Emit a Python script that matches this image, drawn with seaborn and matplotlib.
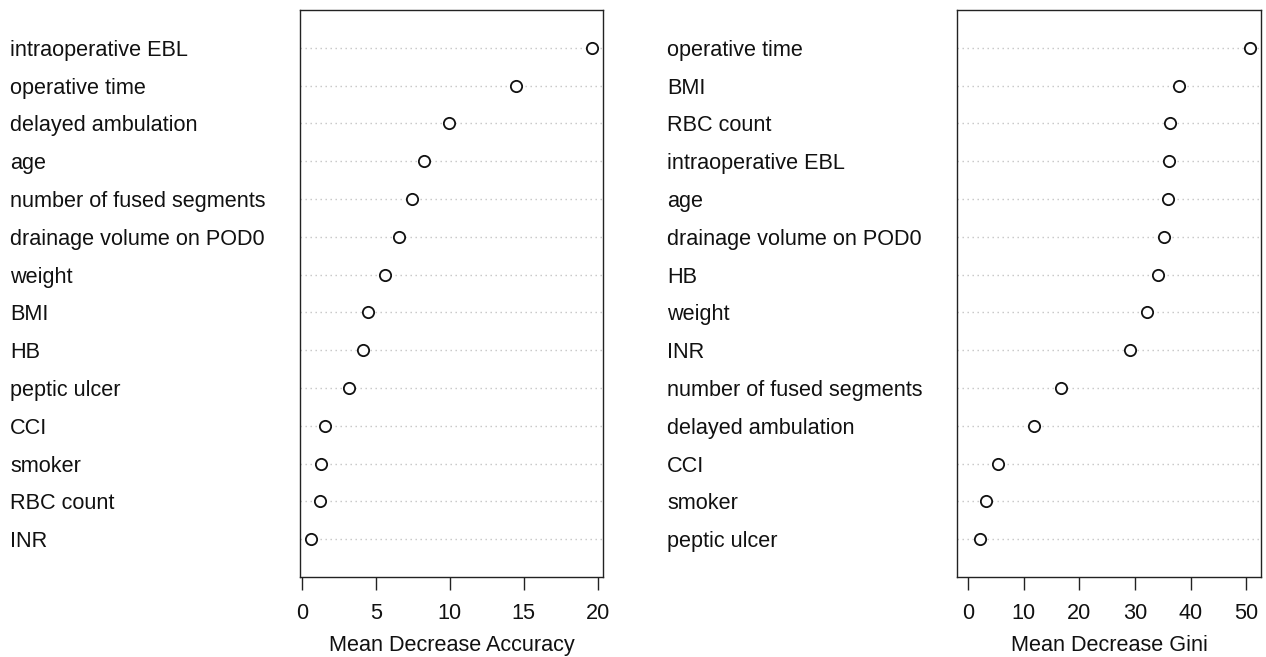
import matplotlib
matplotlib.use("Agg")
import matplotlib.pyplot as plt
import seaborn as sns
import pandas as pd

acc_vars = ["intraoperative EBL", "operative time", "delayed ambulation", "age",
            "number of fused segments", "drainage volume on POD0", "weight", "BMI",
            "HB", "peptic ulcer", "CCI", "smoker", "RBC count", "INR"]
acc_vals = [19.6, 14.48, 9.93, 8.24, 7.47, 6.55, 5.63, 4.5, 4.16, 3.17, 1.57, 1.3, 1.19, 0.63]

gini_vars = ["operative time", "BMI", "RBC count", "intraoperative EBL", "age",
             "drainage volume on POD0", "HB", "weight", "INR", "number of fused segments",
             "delayed ambulation", "CCI", "smoker", "peptic ulcer"]
gini_vals = [50.65, 37.9, 36.25, 36.15, 36.0, 35.3, 34.2, 32.2, 29.1, 16.6, 11.8, 5.35, 3.2, 2.1]

acc_ticks = [0, 5, 10, 15, 20]
gini_ticks = [0, 10, 20, 30, 40, 50]

sns.set_style("white")
plt.rcParams["font.family"] = ["Liberation Sans", "DejaVu Sans"]

FS = 15.6
fig = plt.figure(figsize=(12.66, 6.57), dpi=100)
W, H = 1266, 657
ax1 = fig.add_axes([300 / W, 1 - 577 / H, (603 - 300) / W, (577 - 10) / H])
ax2 = fig.add_axes([957 / W, 1 - 577 / H, (1261 - 957) / W, (577 - 10) / H])


def panel(ax, names, vals, ticks, xlabel, xlo):
    df = pd.DataFrame({"var": names, "val": vals})
    n = len(names)
    for i in range(n):
        ax.axhline(i, color="#c4c4c4", linestyle=(0, (1, 2.6)), lw=1.0, zorder=1)
    sns.scatterplot(data=df, x="val", y="var", ax=ax, marker="o", s=66,
                    facecolor="white", edgecolor="#111111", linewidth=1.3, zorder=3)
    lo = xlo if xlo is not None else min(vals)
    hi = max(vals)
    pad = 0.04 * (hi - lo)
    ax.set_xlim(lo - pad, hi + pad)
    ax.set_ylim(n, -1)
    ax.set_xticks(ticks)
    ax.set_xticklabels([str(t) for t in ticks], fontsize=FS, color="#111111")
    ax.set_yticks(range(n))
    ax.set_yticklabels(names, fontsize=FS, ha="left", color="#111111")
    ax.tick_params(axis="y", length=0, pad=290 * 0.72)
    ax.tick_params(axis="x", direction="out", length=9.5, width=1.0, color="#222222",
                   pad=9, bottom=True)
    ax.set_xlabel(xlabel, fontsize=FS, labelpad=8, color="#111111")
    ax.set_ylabel("")
    for s in ax.spines.values():
        s.set_visible(True)
        s.set_color("#222222")
        s.set_linewidth(1.0)


panel(ax1, acc_vars, acc_vals, acc_ticks, "Mean Decrease Accuracy", None)
panel(ax2, gini_vars, gini_vals, gini_ticks, "Mean Decrease Gini", 0)

fig.savefig("out.png", dpi=100, facecolor="white")
